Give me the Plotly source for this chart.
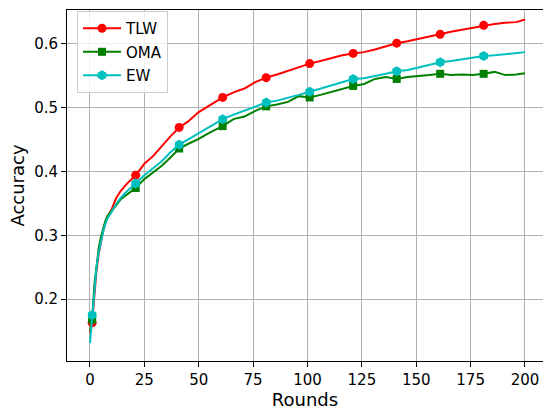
import plotly.graph_objects as go

rounds = [0, 1, 2, 3, 4, 5, 6, 7, 8, 10, 12, 14, 17, 21, 25, 29, 33, 37, 41, 45,
          50, 55, 61, 66, 71, 76, 81, 86, 91, 96, 101, 106, 111, 116, 121, 126,
          131, 136, 141, 146, 151, 156, 161, 166, 171, 176, 181, 186, 191, 196, 200]

tlw = [0.147, 0.163, 0.205, 0.245, 0.270, 0.290, 0.306, 0.318, 0.328, 0.341, 0.358,
       0.369, 0.381, 0.394, 0.412, 0.424, 0.440, 0.455, 0.469, 0.478, 0.493, 0.503,
       0.516, 0.524, 0.530, 0.540, 0.547, 0.552, 0.558, 0.564, 0.569, 0.573, 0.578,
       0.582, 0.585, 0.587, 0.591, 0.596, 0.601, 0.604, 0.608, 0.611, 0.615, 0.619,
       0.622, 0.625, 0.629, 0.631, 0.633, 0.634, 0.638]

oma = [0.150, 0.168, 0.222, 0.256, 0.280, 0.297, 0.311, 0.322, 0.330, 0.338, 0.347,
       0.356, 0.364, 0.374, 0.388, 0.398, 0.409, 0.422, 0.436, 0.443, 0.451, 0.461,
       0.471, 0.482, 0.486, 0.495, 0.502, 0.505, 0.509, 0.518, 0.516, 0.520, 0.525,
       0.529, 0.534, 0.537, 0.545, 0.548, 0.545, 0.548, 0.549, 0.551, 0.553, 0.551,
       0.552, 0.551, 0.553, 0.556, 0.551, 0.552, 0.554]

ew = [0.131, 0.175, 0.215, 0.250, 0.272, 0.290, 0.305, 0.317, 0.326, 0.337, 0.349,
      0.358, 0.369, 0.381, 0.394, 0.405, 0.416, 0.430, 0.442, 0.450, 0.460, 0.469,
      0.482, 0.489, 0.495, 0.502, 0.508, 0.511, 0.515, 0.520, 0.525, 0.530, 0.534,
      0.540, 0.545, 0.546, 0.549, 0.553, 0.557, 0.559, 0.563, 0.567, 0.571, 0.573,
      0.576, 0.579, 0.581, 0.582, 0.584, 0.586, 0.587]

marker_rounds = [1, 21, 41, 61, 81, 101, 121, 141, 161, 181]
x_ticks = [0, 25, 50, 75, 100, 125, 150, 175, 200]
y_ticks = [0.2, 0.3, 0.4, 0.5, 0.6]

series = [
    ("TLW", tlw, "#ff0000", "circle", 9),
    ("OMA", oma, "#008000", "square", 8),
    ("EW", ew, "#00bfbf", "hexagon", 10),
]

fig = go.Figure()
for name, vals, color, symbol, msize in series:
    fig.add_trace(go.Scatter(x=rounds, y=vals, mode="lines",
                             line=dict(color=color, width=2),
                             showlegend=False, hoverinfo="skip"))
    mx = [r for r in rounds if r in marker_rounds]
    my = [v for r, v in zip(rounds, vals) if r in marker_rounds]
    fig.add_trace(go.Scatter(x=mx, y=my, mode="markers",
                             marker=dict(color=color, symbol=symbol, size=msize,
                                         line=dict(width=0)),
                             showlegend=False))
for name, vals, color, symbol, msize in series:
    fig.add_trace(go.Scatter(x=[None], y=[None], mode="lines+markers", name=name,
                             legendgroup=name,
                             line=dict(color=color, width=2),
                             marker=dict(color=color, symbol=symbol, size=msize)))

axis_common = dict(
    showgrid=True, gridcolor="#b0b0b0", gridwidth=1,
    showline=True, linecolor="black", linewidth=1,
    ticks="outside", ticklen=5, tickcolor="black", tickwidth=1,
    zeroline=False,
    tickfont=dict(family="DejaVu Sans", size=15, color="black"),
)

fig.update_layout(
    width=543, height=411,
    margin=dict(l=67, r=0, t=10, b=50),
    paper_bgcolor="white", plot_bgcolor="white",
    font=dict(family="DejaVu Sans", color="black"),
    xaxis=dict(range=[-10.57, 208.28], tickvals=x_ticks, mirror=True,
               title=dict(text="Rounds", font=dict(size=18), standoff=1),
               **axis_common),
    yaxis=dict(range=[0.103, 0.653], tickvals=y_ticks, tickformat=".1f",
               title=dict(text="Accuracy", font=dict(size=18), standoff=4),
               **axis_common),
    legend=dict(x=0.021, y=0.997, xanchor="left", yanchor="top",
                bgcolor="rgba(255,255,255,0.8)", bordercolor="#cccccc", borderwidth=1,
                font=dict(size=15), itemwidth=38, traceorder="grouped",
                tracegroupgap=1, entrywidth=92, entrywidthmode="pixels"),
)

fig.write_html("out.html",
               config={"displayModeBar": False},
               post_script="document.body.style.margin='0';"
                           "document.body.style.overflow='hidden';")
